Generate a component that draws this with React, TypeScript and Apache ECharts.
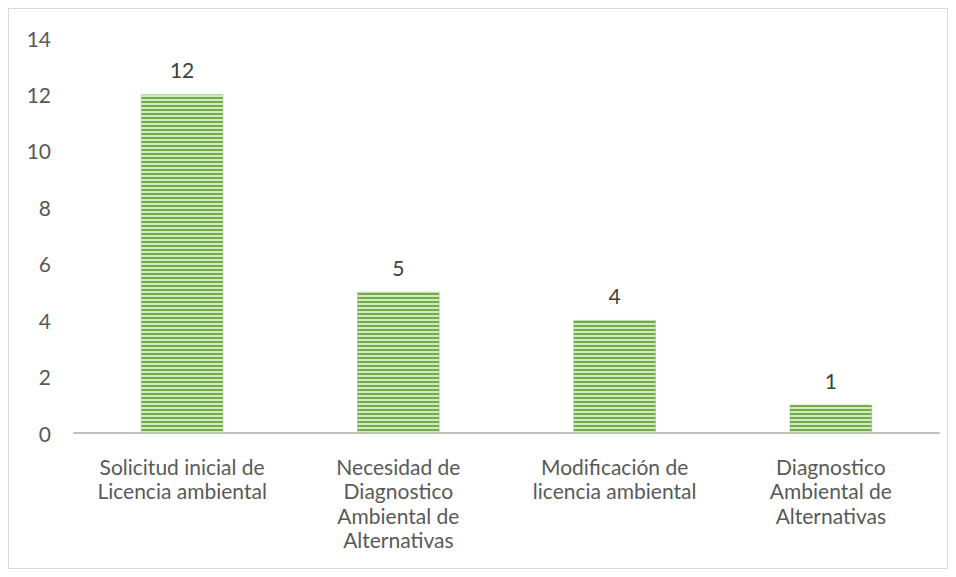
import React, { useEffect, useRef } from "react";
import * as echarts from "echarts";

const categories = [
  "Solicitud inicial de\nLicencia ambiental",
  "Necesidad de\nDiagnostico\nAmbiental de\nAlternativas",
  "Modificación de\nlicencia ambiental",
  "Diagnostico\nAmbiental de\nAlternativas",
];
const values = [12, 5, 4, 1];
const yTicks = [0, 2, 4, 6, 8, 10, 12, 14];

function makePattern(): string {
  const c = document.createElement("canvas");
  c.width = 4;
  c.height = 4;
  const ctx = c.getContext("2d")!;
  ctx.fillStyle = "#d4e8c6";
  ctx.fillRect(0, 0, 4, 4);
  ctx.fillStyle = "#70ad47";
  ctx.fillRect(0, 0, 4, 2);
  return c.toDataURL();
}

export default function App() {
  const ref = useRef<HTMLDivElement>(null);
  useEffect(() => {
    if (!ref.current) return;
    const chart = echarts.init(ref.current, undefined, { renderer: "svg" });
    const font = "Lato, 'Open Sans', sans-serif";
    chart.setOption({
      animation: false,
      textStyle: { fontFamily: font },
      grid: { left: 65, right: 8, top: 29, bottom: 135, containLabel: false },
      xAxis: {
        type: "category",
        data: categories,
        axisLine: { show: true, lineStyle: { color: "#bfbfbf", width: 2 } },
        axisTick: { show: false },
        axisLabel: {
          color: "#595959",
          fontSize: 21,
          lineHeight: 24.5,
          margin: 21,
          interval: 0,
          fontFamily: font,
        },
      },
      yAxis: {
        type: "value",
        min: yTicks[0],
        max: yTicks[yTicks.length - 1],
        interval: 2,
        axisLine: { show: false },
        axisTick: { show: false },
        splitLine: { show: false },
        axisLabel: { color: "#595959", fontSize: 21, margin: 23, fontFamily: font },
      },
      series: [
        {
          type: "bar",
          data: values,
          barWidth: "38%",
          itemStyle: {
            color: { image: makePattern(), repeat: "repeat" },
            borderColor: "#8cc26a",
            borderWidth: 0.5,
          },
          label: {
            show: true,
            position: "top",
            distance: 14,
            color: "#404040",
            fontSize: 21,
            fontFamily: font,
          },
        },
      ],
    });
    return () => chart.dispose();
  }, []);
  return (
    <div
      ref={ref}
      style={{
        width: 938,
        height: 559,
        border: "1px solid #d9d9d9",
        background: "#fff",
      }}
    />
  );
}
